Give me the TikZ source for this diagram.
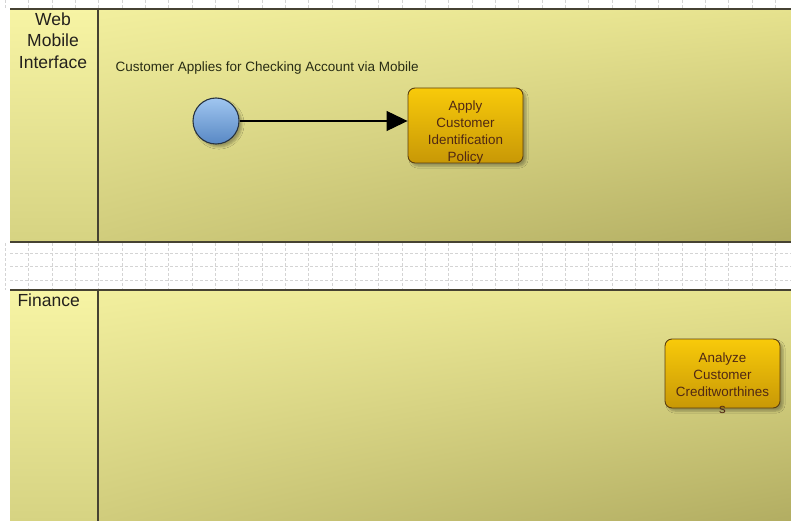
\documentclass[tikz,border=0pt]{standalone}
\usepackage{fontspec}
\setmainfont{Liberation Sans}
\usetikzlibrary{shadows.blur,arrows.meta,shadings}

\definecolor{gridgray}{RGB}{212,212,212}
\definecolor{laneborder}{RGB}{70,66,50}
\definecolor{laneUL}{RGB}{242,239,158}
\definecolor{laneUR}{RGB}{230,226,142}
\definecolor{laneLL}{RGB}{208,204,124}
\definecolor{laneLR}{RGB}{178,173,98}
\definecolor{headtop}{RGB}{247,244,164}
\definecolor{headbottom}{RGB}{214,211,130}
\definecolor{taskborder}{RGB}{90,62,16}
\definecolor{tasktop}{RGB}{248,202,10}
\definecolor{taskbottom}{RGB}{200,152,6}
\definecolor{tasktext}{RGB}{80,40,20}
\definecolor{eventtop}{RGB}{160,198,240}
\definecolor{eventbottom}{RGB}{88,136,196}
\definecolor{eventborder}{RGB}{40,52,66}
\definecolor{labeltext}{RGB}{40,44,20}
\definecolor{lanetext}{RGB}{35,32,28}

\tikzset{
  gridline/.style={draw=gridgray, line width=0.5pt, dash pattern=on 3pt off 2pt},
  lanebody/.style={upper left=laneUL, upper right=laneUR,
                   lower left=laneLL, lower right=laneLR},
  lanehead/.style={top color=headtop, bottom color=headbottom},
  laneline/.style={draw=laneborder, line width=1.3pt},
  lanelabel/.style={font=\fontsize{17.5}{21.5}\selectfont, text=lanetext, align=center},
  taskbox/.style={draw=taskborder, line width=0.9pt, rounded corners=7pt,
                  top color=tasktop, bottom color=taskbottom,
                  minimum width=115pt, inner sep=0pt,
                  blur shadow={shadow xshift=3pt, shadow yshift=-3pt, shadow opacity=30, shadow blur steps=5}},
  tasktxt/.style={font=\fontsize{13.4}{17}\selectfont, text=tasktext, align=center},
  startevent/.style={circle, draw=eventborder, line width=1.1pt, minimum size=46pt, inner sep=0pt,
                     top color=eventtop, bottom color=eventbottom,
                     blur shadow={shadow xshift=3pt, shadow yshift=-3pt, shadow opacity=30, shadow blur steps=5}},
  flow/.style={draw=black, line width=1.1pt, -{Triangle[length=21pt,width=20pt]}}
}

\begin{document}
\begin{tikzpicture}[x=1pt,y=-1pt]
\useasboundingbox (0,0) rectangle (791,521);
\fill[white] (0,0) rectangle (791,521);

% dashed layout grid on the white canvas
\foreach \gx in {5,28,52,75,98,122,145,168,192,215,238,262,285,308,332,355,378,402,425,448,472,495,518,542,565,588,612,635,658,682,705,728,752,775}{
  \draw[gridline] (\gx,0) -- (\gx,9);
  \draw[gridline] (\gx,243) -- (\gx,290);
}
\foreach \gy in {253,266,280}{
  \draw[gridline] (10,\gy) -- (791,\gy);
}

% lane: Web Mobile Interface
\shade[lanebody] (98,9) rectangle (791,242);
\shade[lanehead] (10,9) rectangle (98,242);
\node[coordinate] (l1tl) at (10,9) {};
\node[coordinate] (l1tr) at (791,9) {};
\node[coordinate] (l1bl) at (10,242) {};
\node[coordinate] (l1br) at (791,242) {};
\node[coordinate] (l1dt) at (98,9) {};
\node[coordinate] (l1db) at (98,242) {};
\draw[laneline] (l1tl) -- (l1tr);
\draw[laneline] (l1bl) -- (l1br);
\draw[laneline] (l1dt) -- (l1db);
\node[lanelabel, anchor=north] (lane1) at (53,9) {Web\\Mobile\\Interface};

% lane: Finance
\shade[lanebody] (98,290) rectangle (791,521);
\shade[lanehead] (10,290) rectangle (98,521);
\node[coordinate] (l2tl) at (10,290) {};
\node[coordinate] (l2tr) at (791,290) {};
\node[coordinate] (l2dt) at (98,290) {};
\node[coordinate] (l2db) at (98,521) {};
\draw[laneline] (l2tl) -- (l2tr);
\draw[laneline] (l2dt) -- (l2db);
\node[lanelabel, anchor=north west] (lane2) at (14,290) {Finance};

% process label
\node[font=\fontsize{13.5}{15}\selectfont, text=labeltext, anchor=west] (title) at (112,68)
  {Customer Applies for Checking Account via Mobile};

% start event and first task
\node[startevent] (start) at (216,121) {};
\node[taskbox, minimum height=75pt] (task1) at (465.5,125.5) {};
\node[tasktxt] (task1txt) at (465.5,132.5) {Apply\\Customer\\Identification\\Policy};
\draw[flow] (start) -- (start -| task1.west);

% finance task
\node[taskbox, minimum height=69pt] (task2) at (722.5,373.5) {};
\node[tasktxt] (task2txt) at (722.5,383.5) {Analyze\\Customer\\Creditworthines\\s};
\end{tikzpicture}
\end{document}
